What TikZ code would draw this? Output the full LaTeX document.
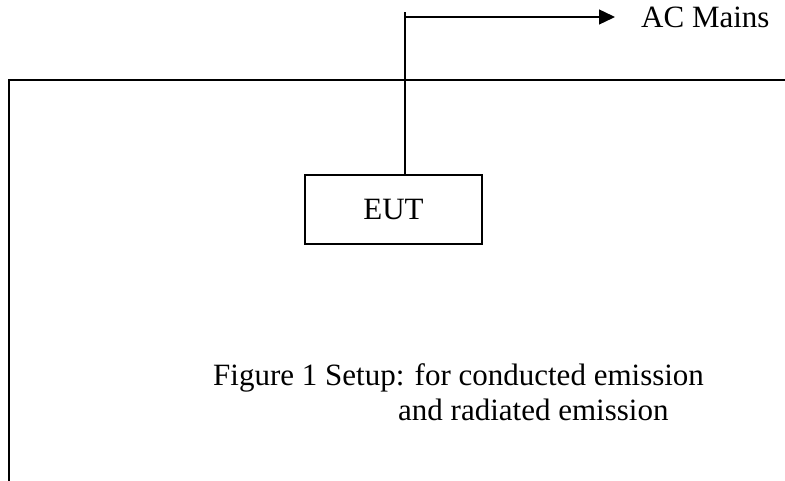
\documentclass[tikz,border=0pt]{standalone}
\usepackage{fontspec}
\setmainfont{Liberation Serif}
\usetikzlibrary{arrows.meta}
\begin{document}
\begin{tikzpicture}[x=1pt,y=-1pt,font=\fontsize{31}{35}\selectfont]
        \useasboundingbox (0,0) rectangle (785,481);
        \draw [line width=2pt] (9,481) -- (9,80) -- (785,80);
        \node [draw, line width=1.4pt, minimum width=177pt, minimum height=69pt] (eut) at (393.5,209.5) {EUT};
        \node [anchor=base west, inner sep=0pt] (mains) at (641,28) {AC Mains};
        \coordinate (top) at (405,12);
        \coordinate (corner) at (405,17);
        \draw [line width=1.4pt] (eut.north -| top) -- (top);
        \draw [line width=1.4pt, -{Triangle[length=16pt,width=15pt]}, shorten >=26pt] (corner) -- (corner -| mains.west);
        \node [anchor=base west, inner sep=0pt] (caption) at (213,385) {Figure 1 Setup: for conducted emission};
        \node [anchor=base west, inner sep=0pt] (caption2) at (398,420) {and radiated emission};
    \end{tikzpicture}
\end{document}
